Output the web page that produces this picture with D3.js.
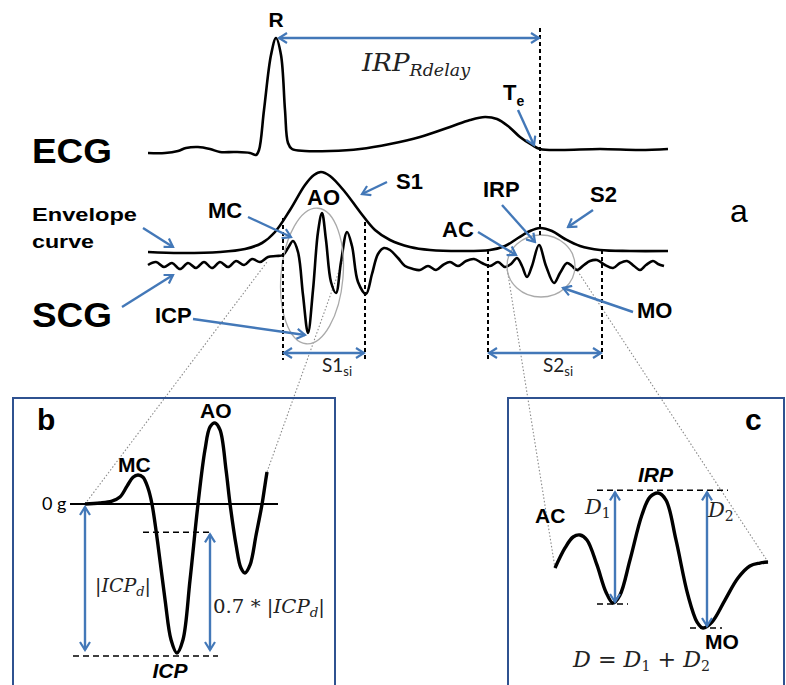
<!DOCTYPE html>
<html><head><meta charset="utf-8">
<script src="https://cdn.jsdelivr.net/npm/d3@7"></script>
<style>body{margin:0;background:#fff}svg{display:block}</style>
</head><body>
<script>
// ---------- DATA (schematic values) ----------
// ECG: [time ms, amplitude mV]
const ecgData = [[0,0],[34,0],[60,0.02],[76,0.05],[100,0.06],[124,0.04],[144,0.01],[174,0.01],[204,0],[216,-0.02],[222,0.03],[232,0.43],[246,0.98],[256,1.15],[266,0.98],[274,0.43],[280,0.10],[288,0.04],[314,0.02],[364,0.02],[424,0.04],[484,0.09],[544,0.16],[604,0.26],[644,0.33],[674,0.36],[698,0.34],[720,0.27],[744,0.16],[768,0.08],[784,0.04],[824,0.03],[904,0.04],[984,0.03],[1040,0.04]];
// Envelope curve: [time ms, amplitude]
const envData = [[0,0.10],[64,0.09],[144,0.10],[194,0.13],[228,0.19],[254,0.30],[284,0.52],[314,0.77],[332,0.87],[346,0.90],[364,0.86],[394,0.70],[424,0.50],[454,0.32],[484,0.22],[524,0.15],[564,0.12],[624,0.11],[684,0.12],[714,0.16],[740,0.24],[764,0.31],[784,0.34],[808,0.31],[834,0.23],[864,0.16],[904,0.12],[964,0.11],[1040,0.11]];
// SCG: [time ms, amplitude]
const scgData = [[0,-0.03],[16,0],[32,-0.05],[48,-0.01],[64,-0.07],[80,-0.01],[96,-0.06],[112,0],[128,-0.06],[144,0],[160,-0.05],[176,0.01],[192,-0.03],[208,0.03],[224,0],[240,0.05],[256,0.06],[270,0.07],[280,0.14],[290,0.21],[300,0.10],[310,-0.33],[320,-0.71],[330,-0.28],[340,0.30],[348,0.49],[356,0.22],[366,-0.20],[376,-0.31],[386,0],[398,0.30],[408,0.16],[420,-0.20],[436,-0.32],[448,-0.12],[460,0.08],[472,0.14],[484,0.12],[500,0.04],[514,-0.04],[530,-0.07],[544,-0.08],[560,-0.04],[576,-0.08],[590,-0.03],[604,0],[620,-0.04],[636,0.01],[652,0.03],[668,-0.01],[684,-0.04],[700,0],[714,-0.05],[726,-0.02],[738,0.04],[748,-0.04],[758,-0.15],[768,-0.04],[782,0.17],[796,-0.04],[812,-0.21],[824,-0.11],[838,-0.01],[848,-0.04],[858,-0.08],[872,-0.03],[884,0.01],[898,0.02],[914,-0.03],[930,-0.06],[944,-0.01],[958,0.01],[972,-0.04],[984,-0.08],[996,-0.03],[1010,0.01],[1020,-0.02],[1032,-0.04]];
// Key times (ms)
const rPeakT = 256, teT = 784;
const s1Interval = [270, 434], s2Interval = [680, 908];
// Panel b zoom of S1: [relative time, amplitude g]
const s1Zoom = [[0,0],[8.2,0.007],[14.8,0.02],[19.2,0.047],[23.1,0.12],[26.4,0.18],[29.1,0.195],[31.9,0.18],[34.6,0.107],[36.8,0],[40.1,-0.275],[44,-0.644],[47.3,-0.913],[50.5,-1],[53.8,-0.913],[57.7,-0.51],[62.1,0],[65.9,0.362],[68.7,0.517],[71.4,0.544],[74.2,0.497],[77.5,0.228],[79.7,0],[83,-0.275],[85.7,-0.43],[87.9,-0.463],[90.7,-0.409],[94,-0.208],[97.3,0],[98.9,0.128],[100,0.215]];
const icpLevels = [-1.02, -0.19];
// Panel c zoom of S2: [relative time, amplitude]
const s2Zoom = [[0,0.444],[4.7,0.593],[8.5,0.674],[11.7,0.689],[15,0.652],[19.7,0.467],[23.9,0.267],[27.2,0.185],[30.5,0.244],[35.2,0.504],[40.8,0.837],[44.6,0.97],[48.4,1],[52.1,0.948],[56.8,0.652],[62.4,0.244],[66.7,0.044],[69.5,0],[73.7,0.044],[79.8,0.207],[85.9,0.37],[91.5,0.459],[96.2,0.481],[100,0.489]];
const irpLevels = [1.02, 0.178, 0];

// ---------- DRAW ----------
const W = 786, H = 685;
const BLUE = '#4378b8';
const svg = d3.select('body').append('svg').attr('width', W).attr('height', H);
const defs = svg.append('defs');
defs.append('marker').attr('id','ah').attr('viewBox','0 -6 12 12').attr('refX',10).attr('refY',0)
  .attr('markerWidth',12).attr('markerHeight',12).attr('markerUnits','userSpaceOnUse').attr('orient','auto-start-reverse')
  .append('path').attr('d','M2,-5 L10,0 L2,5').attr('fill','none').attr('stroke',BLUE).attr('stroke-width',2.2);

const tA = d3.scaleLinear().domain([0,1040]).range([148,668]);
const yE = d3.scaleLinear().domain([0,1]).range([153,53]);
const yS = d3.scaleLinear().domain([0,1]).range([262,162]);
const tB = d3.scaleLinear().domain([0,100]).range([85,267]);
const yB = d3.scaleLinear().domain([-1,0]).range([653,504]);
const tC = d3.scaleLinear().domain([0,100]).range([555,768]);
const yC = d3.scaleLinear().domain([0,1]).range([628,493]);

const curve = d3.curveCatmullRom.alpha(0.5);
const mk = (xs, ys) => d3.line().x(d => xs(d[0])).y(d => ys(d[1])).curve(curve);

function line(x1,y1,x2,y2,o={}){
  return svg.append('line').attr('x1',x1).attr('y1',y1).attr('x2',x2).attr('y2',y2)
    .attr('stroke',o.c||'#000').attr('stroke-width',o.w||2).attr('stroke-dasharray',o.d||null);
}
function arrow(x1,y1,x2,y2,dbl){
  const l = line(x1,y1,x2,y2,{c:BLUE,w:2.4});
  l.attr('marker-end','url(#ah)');
  if (dbl) l.attr('marker-start','url(#ah)');
}
function text(x,y,s,o={}){
  const t = svg.append('text').attr('x',x).attr('y',y)
    .attr('font-family',o.f||'Liberation Sans, Arial, sans-serif')
    .attr('font-size',o.s||22).attr('font-weight',o.b?'bold':'normal')
    .attr('font-style',o.i?'italic':'normal').attr('fill',o.c||'#000')
    .attr('text-anchor',o.a||'start');
  if (o.len) t.attr('textLength',o.len).attr('lengthAdjust','spacingAndGlyphs');
  if (Array.isArray(s)) s.forEach(p => {
    const ts = t.append('tspan').text(p.t);
    if (p.s) ts.attr('font-size',p.s);
    if (p.dy) ts.attr('dy',p.dy);
    if (p.i!==undefined) ts.attr('font-style',p.i?'italic':'normal');
    if (p.b!==undefined) ts.attr('font-weight',p.b?'bold':'normal');
  }); else t.text(s);
  return t;
}
const SERIF = 'DejaVu Serif, Liberation Serif, serif';
const CAL = 'Lato, Open Sans, sans-serif';

// grey zoom guide lines (drawn first, under everything)
const g = {c:'#8a8a8a', w:1.1, d:'1.5,2'};
line(tB(0), yB(0), 267, 262, g);
line(tB(100), yB(0.215), 343, 260, g);
line(tC(0), yC(0.444), 507, 268, g);
line(tC(100), yC(0.489), 575, 267, g);

// panels b and c frames
svg.append('rect').attr('x',13).attr('y',398).attr('width',322).attr('height',320).attr('fill','none').attr('stroke','#2f5290').attr('stroke-width',2);
svg.append('rect').attr('x',508).attr('y',398).attr('width',276).attr('height',320).attr('fill','none').attr('stroke','#2f5290').attr('stroke-width',2);

// ---------- Panel a ----------
svg.append('path').datum(ecgData).attr('d', mk(tA,yE)).attr('fill','none').attr('stroke','#000').attr('stroke-width',2.6).attr('stroke-linejoin','round');
svg.append('path').datum(envData).attr('d', mk(tA,yS)).attr('fill','none').attr('stroke','#000').attr('stroke-width',2.6);
svg.append('path').datum(scgData).attr('d', mk(tA,yS)).attr('fill','none').attr('stroke','#000').attr('stroke-width',2.6).attr('stroke-linejoin','round');

// ellipses around S1 and S2 complexes
svg.append('ellipse').attr('cx',tA(328)).attr('cy',yS(-0.14)).attr('rx',31).attr('ry',68)
  .attr('transform',`rotate(5 ${tA(328)} ${yS(-0.14)})`).attr('fill','none').attr('stroke','#aaa').attr('stroke-width',1.3);
svg.append('ellipse').attr('cx',tA(786)).attr('cy',yS(-0.04)).attr('rx',34).attr('ry',31)
  .attr('fill','none').attr('stroke','#aaa').attr('stroke-width',1.3);

// dashed marker lines
const dsh = {w:2, d:'4,3'};
line(tA(teT), 28, tA(teT), 238, dsh);
line(tA(s1Interval[0]), 218, tA(s1Interval[0]), 360, dsh);
line(tA(s1Interval[1]), 222, tA(s1Interval[1]), 360, dsh);
line(tA(s2Interval[0]), 250, tA(s2Interval[0]), 360, dsh);
line(tA(s2Interval[1]), 250, tA(s2Interval[1]), 360, dsh);

// double arrows
arrow(tA(rPeakT)+3, 38, tA(teT)-1, 38, true);
arrow(tA(s1Interval[0])+1, 353, tA(s1Interval[1])-1, 353, true);
arrow(tA(s2Interval[0])+1, 353, tA(s2Interval[1])-1, 353, true);

// pointer arrows
arrow(143,228,173,247);
arrow(122,307,173,275);
arrow(248,217,291,237);
arrow(193,319,305,335);
arrow(387,182,362,194);
arrow(502,205,535,242);
arrow(593,210,568,227);
arrow(478,232,516,255);
arrow(633,312,563,288);
arrow(518,110,534,145);

// labels panel a
text(276,27,'R',{b:true,s:21,a:'middle'});
text(362,71,[{t:'IRP',i:true},{t:'Rdelay',s:16,dy:5,i:true}],{f:SERIF,s:24,c:'#222',len:108});
text(503,100,[{t:'T'},{t:'e',s:14,dy:6}],{b:true,s:22});
text(32,163,'ECG',{b:true,s:35,len:80});
text(32,221,'Envelope',{b:true,s:19,len:105});
text(32,248,'curve',{b:true,s:19,len:62});
text(32,327,'SCG',{b:true,s:35,len:80});
text(208,218,'MC',{b:true,s:22});
text(307,205,'AO',{b:true,s:22});
text(396,189,'S1',{b:true,s:22});
text(155,323,'ICP',{b:true,s:22});
text(483,197,'IRP',{b:true,s:22});
text(590,202,'S2',{b:true,s:22});
text(442,237,'AC',{b:true,s:22});
text(637,318,'MO',{b:true,s:22});
text(730,222,'a',{s:32});
text(322,372,[{t:'S1'},{t:'si',s:13,dy:4}],{f:CAL,s:19,c:'#222'});
text(543,372,[{t:'S2'},{t:'si',s:13,dy:4}],{f:CAL,s:19,c:'#222'});

// ---------- Panel b ----------
line(70, yB(0), 278, yB(0), {w:2});
line(143, yB(icpLevels[1]), 213, yB(icpLevels[1]), {w:1.6, d:'6,4'});
line(73, yB(icpLevels[0]), 218, yB(icpLevels[0]), {w:1.6, d:'6,4'});
svg.append('path').datum(s1Zoom).attr('d', mk(tB,yB)).attr('fill','none').attr('stroke','#000').attr('stroke-width',3.4).attr('stroke-linejoin','round');
arrow(tB(0), yB(0)+3, tB(0), yB(icpLevels[0])-6, true);
arrow(210, yB(icpLevels[1])+2, 210, yB(icpLevels[0])-6, true);
text(37,430,'b',{b:true,s:30});
text(200,418,'AO',{b:true,s:21});
text(118,472,'MC',{b:true,s:21});
text(42,510,'0 g',{f:CAL,s:18});
text(95,592,[{t:'|',i:false},{t:'ICP',i:true},{t:'d',s:13,dy:4,i:true},{t:'|',dy:-4,i:false}],{f:SERIF,s:19,c:'#222'});
text(213,613,[{t:'0.7 * |',i:false},{t:'ICP',i:true},{t:'d',s:13,dy:4,i:true},{t:'|',dy:-4,i:false}],{f:SERIF,s:19,c:'#222',len:112});
text(170,678,'ICP',{b:true,i:true,s:21,a:'middle'});

// ---------- Panel c ----------
line(597, yC(irpLevels[0]), 728, yC(irpLevels[0]), {w:1.6, d:'6,4'});
line(597, yC(irpLevels[1]), 628, yC(irpLevels[1]), {w:1.6, d:'6,4'});
line(690, yC(irpLevels[2]), 722, yC(irpLevels[2]), {w:1.6, d:'6,4'});
svg.append('path').datum(s2Zoom).attr('d', mk(tC,yC)).attr('fill','none').attr('stroke','#000').attr('stroke-width',3.4).attr('stroke-linejoin','round');
arrow(615, yC(irpLevels[0])+2, 615, yC(irpLevels[1])-2, true);
arrow(707, yC(irpLevels[0])+2, 707, yC(irpLevels[2])-2, true);
text(745,430,'c',{b:true,s:30});
text(638,482,'IRP',{b:true,i:true,s:21});
text(535,523,'AC',{b:true,s:21});
text(585,514,[{t:'D',i:true},{t:'1',s:14,dy:4,i:false}],{f:SERIF,s:21,c:'#222'});
text(708,517,[{t:'D',i:true},{t:'2',s:14,dy:4,i:false}],{f:SERIF,s:21,c:'#222'});
text(705,649,'MO',{b:true,s:21});
text(573,667,[{t:'D',i:true},{t:' = ',i:false},{t:'D',i:true},{t:'1',s:14,dy:4,i:false},{t:' + ',dy:-4,i:false},{t:'D',i:true},{t:'2',s:14,dy:4,i:false}],{f:SERIF,s:22,c:'#222',len:137});
</script>
</body></html>
